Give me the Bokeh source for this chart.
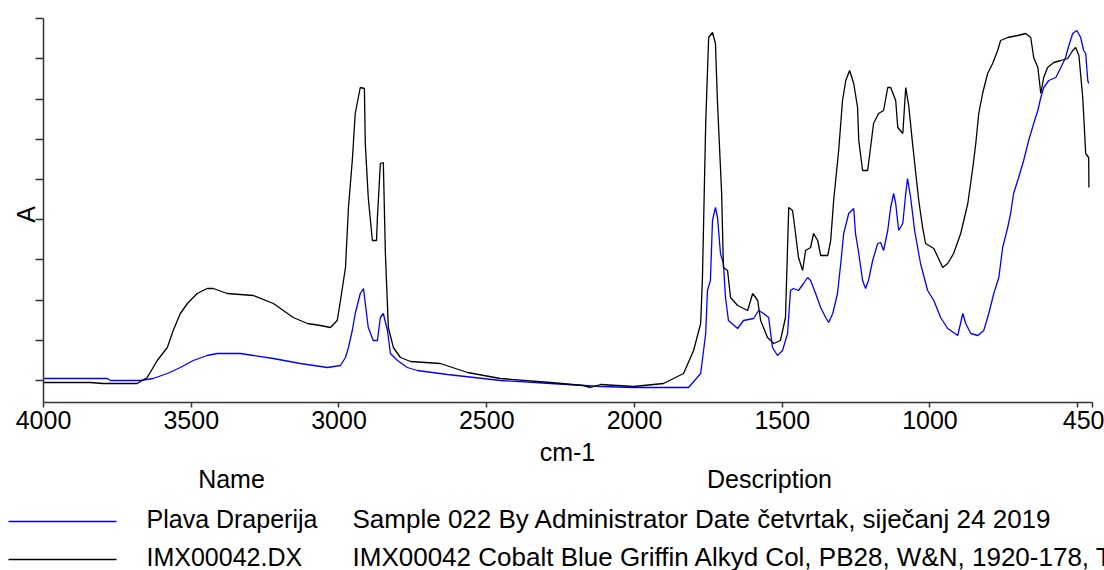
from bokeh.plotting import figure
from bokeh.models import Range1d, FixedTicker, LinearAxis, CustomLabelingPolicy
from bokeh.core.properties import value
from bokeh.embed import file_html
from bokeh.resources import INLINE
import math

# ---------------- data ----------------
# IMX00042.DX (black)
black_wn = [4000, 3842, 3798, 3683, 3649, 3615, 3581, 3561, 3537, 3513, 3480, 3446, 3425, 3378,
            3290, 3222, 3155, 3107, 3063, 3029, 3006, 2995, 2978, 2968, 2955, 2945, 2928, 2914,
            2911, 2901, 2887, 2873, 2870, 2860, 2850, 2843, 2833, 2816, 2792, 2758, 2657, 2565,
            2454, 2284, 2173, 2149, 2115, 2003, 1902, 1834, 1800, 1776, 1770, 1759, 1749, 1736,
            1726, 1719, 1705, 1699, 1685, 1675, 1651, 1617, 1600, 1583, 1573, 1550, 1529, 1506,
            1489, 1478, 1465, 1455, 1445, 1431, 1421, 1404, 1394, 1380, 1370, 1346, 1336, 1326,
            1309, 1296, 1285, 1272, 1258, 1245, 1241, 1228, 1211, 1201, 1191, 1174, 1157, 1143,
            1133, 1116, 1109, 1092, 1082, 1072, 1059, 1048, 1038, 1025, 1015, 987, 957, 940,
            920, 896, 872, 855, 845, 835, 822, 805, 788, 771, 761, 737, 703, 676,
            659, 649, 635, 625, 615, 602, 581, 557, 534, 517, 507, 496, 483, 473, 463, 462]
black_a = [-0.005, -0.005, -0.0075, -0.0075, 0.0075, 0.05, 0.0825, 0.125, 0.1675, 0.1925, 0.2175, 0.23, 0.23, 0.2175,
           0.2125, 0.1925, 0.1575, 0.1425, 0.1375, 0.1325, 0.15, 0.2, 0.2825, 0.4325, 0.55, 0.6675, 0.7325, 0.73,
           0.5925, 0.4575, 0.35, 0.35, 0.4075, 0.5425, 0.545, 0.3175, 0.1325, 0.0825, 0.0575, 0.0475, 0.0425, 0.02,
           0.005, -0.005, -0.0125, -0.0175, -0.01, -0.015, -0.0075, 0.0175, 0.075, 0.1425, 0.2575, 0.6425, 0.8575, 0.87,
           0.8425, 0.6925, 0.4675, 0.2825, 0.275, 0.2075, 0.1875, 0.175, 0.2175, 0.2, 0.15, 0.1075, 0.0925, 0.1,
           0.1575, 0.4325, 0.425, 0.3675, 0.3075, 0.275, 0.325, 0.3325, 0.3675, 0.35, 0.3125, 0.3125, 0.35, 0.45,
           0.575, 0.7, 0.75, 0.775, 0.7425, 0.6825, 0.6, 0.525, 0.525, 0.5825, 0.6425, 0.6675, 0.675, 0.7325,
           0.7325, 0.7, 0.6325, 0.6175, 0.7325, 0.6875, 0.5925, 0.5175, 0.45, 0.3825, 0.3425, 0.33, 0.2825, 0.2925,
           0.3175, 0.3675, 0.4425, 0.5325, 0.5925, 0.6675, 0.7175, 0.7675, 0.7925, 0.825, 0.85, 0.8575, 0.8625, 0.8675,
           0.8575, 0.8075, 0.7825, 0.7175, 0.7575, 0.7825, 0.795, 0.8, 0.805, 0.825, 0.8325, 0.8125, 0.7075, 0.5675, 0.5575, 0.4825]

# Plava Draperija (blue)
blue_wn = [4000, 3784, 3774, 3673, 3629, 3581, 3537, 3493, 3446, 3412, 3334, 3290, 3222, 3131,
           3039, 2995, 2978, 2968, 2955, 2945, 2928, 2917, 2911, 2901, 2884, 2870, 2860, 2850,
           2836, 2826, 2802, 2769, 2735, 2633, 2454, 2284, 2115, 2003, 1817, 1776, 1759, 1753,
           1743, 1736, 1726, 1719, 1709, 1699, 1692, 1682, 1651, 1631, 1597, 1580, 1563, 1546,
           1533, 1516, 1499, 1482, 1472, 1462, 1445, 1428, 1414, 1404, 1387, 1370, 1353, 1343,
           1329, 1313, 1302, 1292, 1275, 1258, 1252, 1241, 1228, 1218, 1208, 1194, 1177, 1167,
           1157, 1143, 1133, 1123, 1116, 1106, 1092, 1082, 1076, 1065, 1052, 1032, 1008, 987,
           964, 940, 906, 889, 879, 862, 838, 818, 801, 784, 767, 754, 737, 727,
           717, 700, 683, 666, 649, 635, 625, 615, 598, 574, 557, 541, 530, 517,
           503, 490, 480, 473, 466, 463]
blue_a = [0.005, 0.005, 0.0, 0.0, 0.005, 0.0175, 0.0325, 0.05, 0.0625, 0.0675, 0.0675, 0.0625, 0.055, 0.0425,
          0.0325, 0.0375, 0.0575, 0.0825, 0.125, 0.1675, 0.2175, 0.23, 0.1925, 0.1325, 0.1, 0.1, 0.1575, 0.1675,
          0.125, 0.0675, 0.05, 0.0325, 0.025, 0.015, 0.0, -0.0075, -0.015, -0.0175, -0.0175, 0.0175, 0.1175, 0.225,
          0.25, 0.4, 0.4325, 0.4075, 0.3175, 0.2925, 0.2075, 0.15, 0.13, 0.15, 0.155, 0.175, 0.1675, 0.1575,
          0.0825, 0.0625, 0.075, 0.1175, 0.225, 0.23, 0.225, 0.2425, 0.2575, 0.25, 0.2175, 0.1825, 0.1575, 0.145,
          0.1675, 0.2175, 0.2925, 0.3675, 0.4175, 0.43, 0.3675, 0.3175, 0.25, 0.23, 0.25, 0.3, 0.3425, 0.345,
          0.325, 0.375, 0.4325, 0.4675, 0.4425, 0.375, 0.3925, 0.4675, 0.505, 0.455, 0.375, 0.2925, 0.225, 0.2,
          0.1575, 0.13, 0.1125, 0.1675, 0.1425, 0.1175, 0.1125, 0.125, 0.1675, 0.2175, 0.2575, 0.3325, 0.3825, 0.4175,
          0.4675, 0.5075, 0.55, 0.6, 0.6425, 0.675, 0.7075, 0.7325, 0.75, 0.7575, 0.7825, 0.8075, 0.8375, 0.8675,
          0.875, 0.8575, 0.825, 0.8175, 0.75, 0.7425]

x_ticks = [4000, 3500, 3000, 2500, 2000, 1500, 1000, 500, 450]
x_tick_labels = {500: ""}
x_bounds = (450, 4000)
y_bounds = (-0.055, 0.905)
y_ticks = [0.0, 0.1005, 0.201, 0.3015, 0.402, 0.5025, 0.603, 0.7035, 0.804, 0.9045]

x_title = "cm-1"
y_title = "A"
header_names = ["Name", "Description"]
legend_names = ["Plava Draperija", "IMX00042.DX"]
legend_descriptions = ["Sample 022 By Administrator Date četvrtak, siječanj 24 2019",
                       "IMX00042 Cobalt Blue Griffin Alkyd Col, PB28, W&N, 1920-178, T"]
legend_colors = ["#0000ff", "#000000"]

FONT = "Liberation Sans"
FS = "25px"
AX = "#333333"
W, H = 1104, 570

# whole canvas is the frame; axes are placed at fixed locations inside it
p = figure(width=W, height=H, output_backend="svg", toolbar_location=None,
           x_range=Range1d(4145.52, 409.39), y_range=Range1d(-0.475, 0.95),
           x_axis_location=None, y_axis_location=None, min_border=0)
p.min_border_left = p.min_border_right = p.min_border_top = p.min_border_bottom = 0
p.outline_line_color = None
p.grid.visible = False
p.background_fill_color = "white"
p.border_fill_color = "white"
# pixel-like ranges for the legend table and titles
p.extra_x_ranges = {"px": Range1d(0, W)}
p.extra_y_ranges = {"py": Range1d(H, 0)}

p.line(blue_wn, blue_a, line_color=legend_colors[0], line_width=1.3)
p.line(black_wn, black_a, line_color=legend_colors[1], line_width=1.3)

xa = LinearAxis(fixed_location=y_bounds[0], bounds=x_bounds,
                ticker=FixedTicker(ticks=x_ticks, minor_ticks=[]))
xa.major_label_overrides = x_tick_labels
xa.major_label_text_font = FONT
xa.major_label_text_font_size = FS
xa.major_label_text_color = "#000000"
xa.major_label_standoff = 3
xa.major_tick_in = 0
xa.major_tick_out = 5
xa.minor_tick_in = 0
xa.minor_tick_out = 0
xa.axis_line_color = AX
xa.axis_line_width = 1.5
xa.major_tick_line_color = AX
xa.major_tick_line_width = 1.5
p.add_layout(xa, "below")

no_labels = CustomLabelingPolicy(code="""
try { for (let i = 0; i < indices.size; i++) { indices.unset(i) } } catch (e) {}
return indices
""")
ya = LinearAxis(fixed_location=x_bounds[1], bounds=y_bounds,
                ticker=FixedTicker(ticks=y_ticks, minor_ticks=[]))
ya.major_label_policy = no_labels
ya.major_label_text_font_size = "0px"
ya.major_tick_in = 0
ya.major_tick_out = 8
ya.minor_tick_in = 0
ya.minor_tick_out = 0
ya.axis_line_color = AX
ya.axis_line_width = 1.5
ya.major_tick_line_color = AX
ya.major_tick_line_width = 1.5
p.add_layout(ya, "left")

txt = dict(x_range_name="px", y_range_name="py", text_font=value(FONT),
           text_color="#000000", text_baseline="middle")

# axis titles
p.text(x=[567], y=[451], text=[x_title], text_align="center", text_font_size=FS, **txt)
p.text(x=[25], y=[214], text=[y_title], text_align="center", text_font_size=FS,
       angle=math.pi / 2, **txt)

# legend table
head_y = 478
row_y = [518, 556]
p.text(x=[231, 769], y=[head_y, head_y], text=header_names, text_align="center",
       text_font_size=FS, **txt)
p.text(x=[146, 146], y=row_y, text=legend_names, text_align="left", text_font_size=FS, **txt)
p.text(x=[352, 352], y=row_y, text=legend_descriptions, text_align="left",
       text_font_size="26px", **txt)
p.segment(x0=[8, 8], x1=[116, 116], y0=[r + 3 for r in row_y], y1=[r + 3 for r in row_y],
          line_color=legend_colors, line_width=1.5, x_range_name="px", y_range_name="py")

open("out.html", "w").write(file_html(p, INLINE))
